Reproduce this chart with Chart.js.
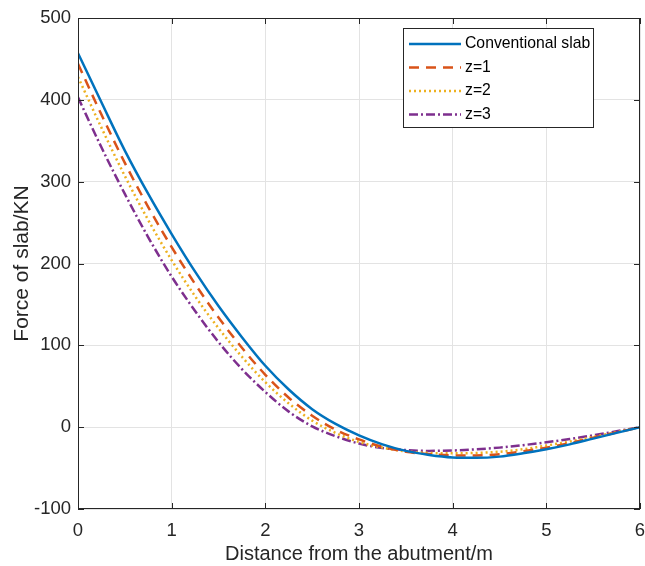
<!DOCTYPE html>
<html>
<head>
<meta charset="utf-8">
<script src="https://cdn.jsdelivr.net/npm/chart.js@4.4.1/dist/chart.umd.min.js"></script>
<style>
  html, body { margin: 0; padding: 0; background: #fff; overflow: hidden; }
  #wrap { width: 645px; height: 566px; position: relative; }
  canvas { display: block; }
</style>
</head>
<body>
<div id="wrap"><canvas id="forceChart"></canvas></div>
<script>
// Distance from the abutment (m)
const distance = [0, 0.25, 0.5, 0.75, 1, 1.25, 1.5, 1.75, 2, 2.25, 2.5, 2.75, 3,
                  3.25, 3.5, 3.75, 4, 4.25, 4.5, 4.75, 5, 5.25, 5.5, 5.75, 6];

// Force of slab (kN)
const conventional = [457, 397, 338, 285, 236, 190, 148, 110, 75, 46, 22, 4, -10,
                      -21, -29, -34, -37, -37.5, -36, -32, -27, -21, -14, -7, 0];
const z1 = [444, 382, 323, 269, 220, 175, 134, 97, 64, 36, 14, -3, -15,
            -24, -30, -33, -34.5, -34.5, -33, -29.5, -25, -19.5, -13, -6.5, 0];
const z2 = [428, 366, 307, 253, 204, 160, 121, 86, 55, 29, 8, -7, -18,
            -25, -29.5, -31.5, -32, -31.5, -30, -27, -22.5, -17.5, -12, -6, 0];
const z3 = [403, 342, 285, 232, 184, 142, 104, 71, 43, 19, 1, -11, -20,
            -25.5, -28, -29, -28.5, -27, -25, -22, -18.5, -14.5, -10, -5, 0];

const xTicks = [0, 1, 2, 3, 4, 5, 6];
const yTicks = [-100, 0, 100, 200, 300, 400, 500];

const seriesNames = ['Conventional slab', 'z=1', 'z=2', 'z=3'];

const FONT = "'Liberation Sans', Arial, sans-serif";
const INK = '#262626';

function pts(ys) {
    return distance.map((x, i) => ({ x: x, y: ys[i] }));
}

// MATLAB-style box, inner ticks and legend
const boxPlugin = {
    id: 'boxPlugin',
    afterDatasetsDraw(chart) {
        const { ctx, chartArea: a, scales } = chart;
        ctx.save();
        ctx.strokeStyle = INK;
        ctx.lineWidth = 1;
        ctx.setLineDash([]);
        ctx.strokeRect(a.left + 0.5, a.top + 0.5, a.right - a.left - 1, a.bottom - a.top - 1);

        // inner tick marks
        ctx.beginPath();
        xTicks.forEach(v => {
            const px = Math.round(scales.x.getPixelForValue(v)) + 0.5;
            ctx.moveTo(px, a.bottom); ctx.lineTo(px, a.bottom - 6);
            ctx.moveTo(px, a.top); ctx.lineTo(px, a.top + 6);
        });
        yTicks.forEach(v => {
            const py = Math.round(scales.y.getPixelForValue(v)) + 0.5;
            ctx.moveTo(a.left, py); ctx.lineTo(a.left + 6, py);
            ctx.moveTo(a.right, py); ctx.lineTo(a.right - 6, py);
        });
        ctx.stroke();

        // legend
        const lx = 403, ly = 28, lw = 190, lh = 99;
        ctx.fillStyle = '#fff';
        ctx.fillRect(lx, ly, lw, lh);
        ctx.strokeStyle = INK;
        ctx.lineWidth = 1;
        ctx.strokeRect(lx + 0.5, ly + 0.5, lw, lh);
        ctx.font = '15.75px ' + FONT;
        ctx.textBaseline = 'middle';
        chart.data.datasets.forEach((ds, i) => {
            const y = ly + 16 + i * 23.5;
            ctx.beginPath();
            ctx.strokeStyle = ds.borderColor;
            ctx.lineWidth = ds.borderWidth;
            ctx.setLineDash(ds.borderDash || []);
            ctx.moveTo(lx + 6, y);
            ctx.lineTo(lx + 58, y);
            ctx.stroke();
            ctx.setLineDash([]);
            ctx.fillStyle = '#000';
            ctx.fillText(ds.label, lx + 62, y);
        });
        ctx.restore();
    }
};

const ctxForce = document.getElementById('forceChart').getContext('2d');
new Chart(ctxForce, {
    type: 'line',
    data: {
        datasets: [
            {
                label: seriesNames[0],
                data: pts(conventional),
                borderColor: '#0072BD',
                borderWidth: 2.5,
                borderDash: []
            },
            {
                label: seriesNames[1],
                data: pts(z1),
                borderColor: '#D95319',
                borderWidth: 2.5,
                borderDash: [10, 7]
            },
            {
                label: seriesNames[2],
                data: pts(z2),
                borderColor: '#EDB120',
                borderWidth: 2.5,
                borderDash: [2, 3]
            },
            {
                label: seriesNames[3],
                data: pts(z3),
                borderColor: '#7E2F8E',
                borderWidth: 2.5,
                borderDash: [9, 3, 2, 3]
            }
        ]
    },
    options: {
        responsive: true,
        maintainAspectRatio: false,
        animation: false,
        layout: { autoPadding: false, padding: { left: 0, top: 18, right: 5, bottom: 0 } },
        elements: {
            point: { radius: 0 },
            line: { cubicInterpolationMode: 'monotone', fill: false }
        },
        plugins: {
            legend: { display: false },
            tooltip: { enabled: false }
        },
        scales: {
            x: {
                type: 'linear',
                min: 0,
                max: 6,
                offset: false,
                afterFit: scale => {
                    scale.height = 57;
                    scale.paddingLeft = 0;
                    scale.paddingRight = 0;
                },
                afterBuildTicks: scale => { scale.ticks = xTicks.map(v => ({ value: v })); },
                grid: { color: '#e3e3e3', drawTicks: false },
                border: { display: false },
                ticks: { color: INK, font: { family: FONT, size: 18.5 }, padding: 11, maxRotation: 0 },
                title: {
                    display: true,
                    text: 'Distance from the abutment/m',
                    color: INK,
                    font: { family: FONT, size: 20 },
                    padding: { top: 2, bottom: 0 }
                }
            },
            y: {
                min: -100,
                max: 500,
                afterFit: scale => {
                    scale.width = 78;
                    scale.paddingTop = 0;
                    scale.paddingBottom = 0;
                },
                afterBuildTicks: scale => { scale.ticks = yTicks.map(v => ({ value: v })); },
                grid: { color: '#e3e3e3', drawTicks: false },
                border: { display: false },
                ticks: { color: INK, font: { family: FONT, size: 18.5 }, padding: 7 },
                title: {
                    display: true,
                    text: 'Force of slab/KN',
                    color: INK,
                    font: { family: FONT, size: 21 },
                    padding: { top: 10, bottom: 4 }
                }
            }
        }
    },
    plugins: [boxPlugin]
});
</script>
</body>
</html>
